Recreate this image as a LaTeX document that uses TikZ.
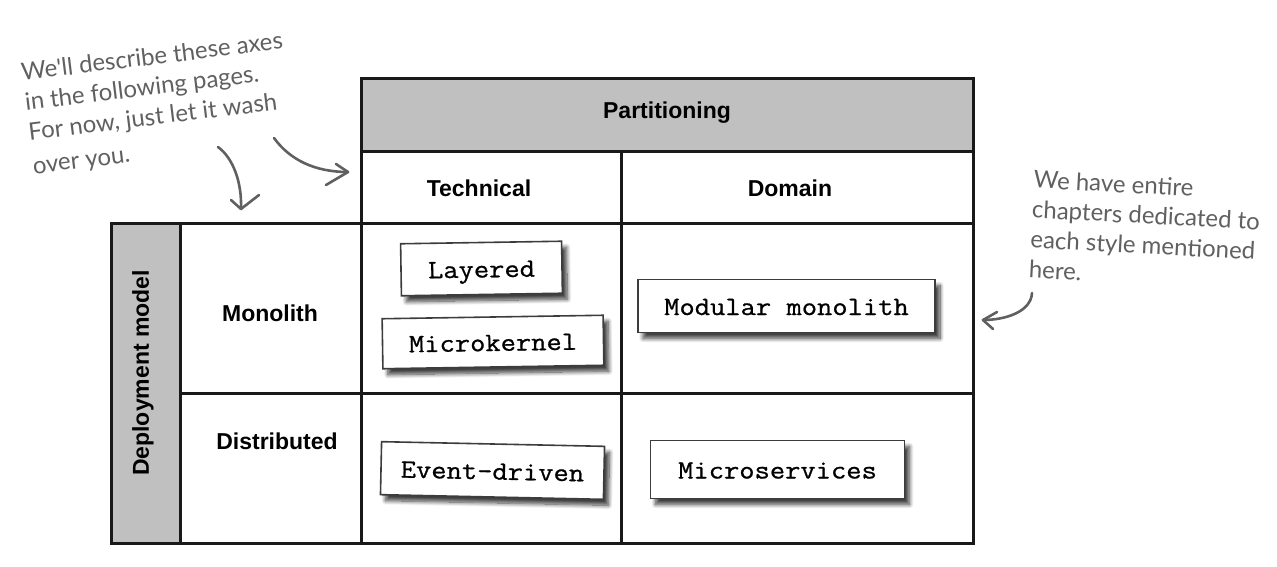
\documentclass[tikz,border=0pt]{standalone}
\usepackage{fontspec}
\setmainfont{Liberation Sans}
\newfontfamily\handfont{Lato}
\newfontfamily\boxfont[FakeStretch=1.12, FakeBold=0.8]{Latin Modern Mono}
\usetikzlibrary{shadows.blur}

\definecolor{hdrgray}{RGB}{192,192,192}
\definecolor{pencil}{RGB}{96,96,96}
\definecolor{rulecol}{RGB}{25,25,25}

\begin{document}
\begin{tikzpicture}[x=1pt, y=-1pt,
  cell/.style={draw=rulecol, line width=2.6pt, inner sep=0pt, anchor=north west},
  shaded/.style={cell, fill=hdrgray},
  label/.style={inner sep=0pt, font=\fontsize{23}{27}\selectfont\bfseries},
  card/.style={draw=rulecol!85, line width=1.6pt, fill=white, inner sep=0pt,
    text height=20pt, text depth=2pt,
    font=\boxfont\fontsize{26.5}{30}\selectfont,
    blur shadow={shadow xshift=5pt, shadow yshift=-6pt, shadow blur radius=4pt,
                 shadow blur steps=10, shadow opacity=75}},
  note/.style={text=pencil, font=\handfont\fontsize{24}{30}\selectfont, align=left, inner sep=0pt},
  pen/.style={draw=pencil, line width=2.6pt, line cap=round, line join=round}]

\useasboundingbox (0,0) rectangle (1277,567);

% grid: header rows
\node[shaded, minimum width=612pt, minimum height=73pt] (partcell) at (360,77) {};
\node[cell, minimum width=260pt, minimum height=72pt] (techcell) at (360,150) {};
\node[cell, minimum width=352pt, minimum height=72pt] (domcell) at (620,150) {};

% grid: row headers
\node[shaded, minimum width=69pt, minimum height=320pt] (depcell) at (110,222) {};
\node[cell, minimum width=181pt, minimum height=170pt] (monocell) at (179,222) {};
\node[cell, minimum width=181pt, minimum height=150pt] (distcell) at (179,392) {};

% grid: body cells
\node[cell, minimum width=260pt, minimum height=170pt] (c11) at (360,222) {};
\node[cell, minimum width=352pt, minimum height=170pt] (c12) at (620,222) {};
\node[cell, minimum width=260pt, minimum height=150pt] (c21) at (360,392) {};
\node[cell, minimum width=352pt, minimum height=150pt] (c22) at (620,392) {};

% axis labels
\node[label] (part) at (667,113) {Partitioning};
\node[label] (tech) at (479,188) {Technical};
\node[label] (dom) at (790,188) {Domain};
\node[label, rotate=90] (dep) at (143,373) {Deployment model};
\node[label] (mono) at (270,313) {Monolith};
\node[label] (dist) at (277,441) {Distributed};

% style cards
\node[card, minimum width=161pt, minimum height=52pt, rotate=0.9] (layered) at (481.5,268.5) {Layered};
\node[card, minimum width=221pt, minimum height=50pt, rotate=0.9] (microkernel) at (493,342) {Microkernel};
\node[card, minimum width=297pt, minimum height=53pt] (modular) at (786.5,306) {Modular monolith};
\node[card, minimum width=223pt, minimum height=53pt, rotate=-1.2] (eventdriven) at (492.5,470.5) {Event-driven};
\node[card, minimum width=254pt, minimum height=58pt] (microservices) at (777.5,469.5) {Microservices};

% handwritten notes
\node[note, anchor=north west, rotate=7] (axesnote) at (20,63)
  {We'll describe these axes\\in the following pages.\\For now, just let it wash\\[4pt]over you.};
\node[note, anchor=north west, rotate=-3] (stylenote) at (1034,170)
  {We have entire\\chapters dedicated to\\each style mentioned\\here.};

% pencil arrows
\coordinate (downstart) at (218,147);
\coordinate (downtip) at (241,209);
\coordinate (rightstart) at (274,138);
\coordinate (righttip) at (348,172);
\coordinate (backstart) at (1032,293);
\coordinate (backtip) at (983,320);

\draw[pen] (downstart) .. controls (233,158) and (242,182) .. (downtip);
\draw[pen] (231,200) -- (downtip) -- (259,195);

\draw[pen] (rightstart) .. controls (290,160) and (315,172) .. (righttip);
\draw[pen] (336,164) -- (righttip) -- (326,185);

\draw[pen] (backstart) .. controls (1031,312) and (1005,320) .. (backtip);
\draw[pen] (997,312) -- (backtip) -- (993,329);
\end{tikzpicture}
\end{document}
